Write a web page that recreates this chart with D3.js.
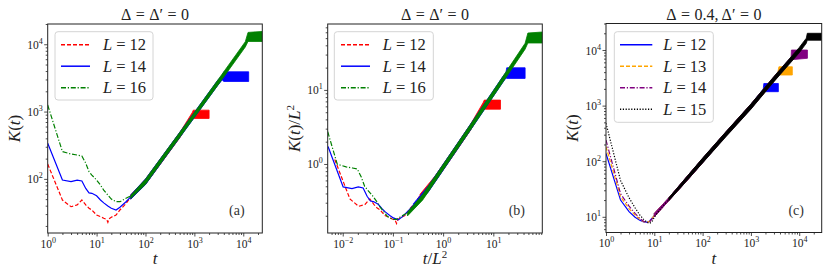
<!DOCTYPE html>
<html>
<head>
<meta charset="utf-8">
<script src="https://cdn.jsdelivr.net/npm/d3@7"></script>
<style>
  body { margin: 0; background: #fff; }
</style>
</head>
<body>
<svg id="fig" width="830" height="277" font-family="Liberation Serif, DejaVu Serif, serif"></svg>
<script>
/* K(t) growth — three log-log panels */

// panel (a): t, K(t) for the early (smooth) part
const a12 = [[1,166],[2,48.5],[3,38.6],[4,41],[5,48.5],[6,41],[7,36.6],[8,34.5],[10,29],[12,27.5],[14,26],[16,25],[17,22.6],[18,25.5],[20,27],[25,29],[30,34.5],[40,43],[50,54]];
const a14 = [[1,338],[2,96],[3,91],[4,96],[5,93],[6,72],[7,62],[8,61],[10,56],[12,48.5],[14,44],[17,39.5],[20,36.6],[25,34.5],[30,37.9],[40,45.8],[50,54]];
const a16 = [[1,1250],[2,254],[3,234],[4,226],[5,219],[6,171],[7,128],[8,114],[10,96],[12,81],[14,68],[17,57.5],[20,50],[25,45.8],[30,45.8],[40,51.5],[50,56]];
// noisy late part: t, low, high
const a12Band = [[50,50,58],[100,83,99],[200,164,196],[500,405,485],[900,790,960],[950,790,1050],[2000,790,1050]];
const a14Band = [[50,50,58],[100,82,100],[300,246,296],[1000,815,975],[3000,2440,2930],[3700,2950,3450],[4000,2800,3900],[12900,2800,3900]];
const a16Band = [[50,51,57],[100,83,99],[300,248,295],[1000,820,970],[3000,2450,2920],[11000,9100,10900],[12500,11000,15000],[24500,11000,15500]];

// panel (b): t/L^2, K(t)/L^2
const b12 = [[0.00694,1.15],[0.0139,0.337],[0.0208,0.268],[0.0278,0.285],[0.0347,0.337],[0.0417,0.285],[0.0486,0.254],[0.0556,0.24],[0.0694,0.201],[0.0833,0.191],[0.0972,0.181],[0.111,0.174],[0.118,0.157],[0.125,0.177],[0.139,0.188],[0.174,0.201],[0.208,0.24],[0.278,0.299],[0.347,0.375]];
const b14 = [[0.0051,1.72],[0.0102,0.49],[0.0153,0.464],[0.0204,0.49],[0.0255,0.474],[0.0306,0.367],[0.0357,0.316],[0.0408,0.311],[0.051,0.286],[0.0612,0.247],[0.0714,0.224],[0.0867,0.202],[0.102,0.187],[0.128,0.176],[0.153,0.193],[0.204,0.234],[0.255,0.276]];
const b16 = [[0.0039,4.88],[0.0078,0.99],[0.0117,0.914],[0.0156,0.883],[0.0195,0.855],[0.0234,0.668],[0.0273,0.5],[0.03125,0.445],[0.039,0.375],[0.0469,0.316],[0.0547,0.266],[0.0664,0.225],[0.078,0.195],[0.0977,0.179],[0.117,0.179],[0.156,0.201],[0.195,0.219]];
const b12Band = [[0.347,0.347,0.39],[0.694,0.58,0.69],[1.39,1.14,1.36],[3.47,2.82,3.38],[6.25,5.5,6.7],[6.6,5.49,7.29],[13.9,5.49,7.29]];
const b14Band = [[0.255,0.255,0.29],[0.51,0.42,0.51],[1.53,1.25,1.51],[5.1,4.16,5],[15.3,12.5,15],[17.9,14.5,17.3],[18.5,14.3,19.9],[43,14.3,19.9]];
const b16Band = [[0.195,0.199,0.223],[0.39,0.325,0.386],[1.17,0.97,1.15],[3.9,3.2,3.8],[11.7,9.6,11.4],[43,35.5,42.6],[48.8,43,58.6],[94.6,43,60.5]];

// panel (c): t, K(t), Delta = 0.4
const c12 = [[1,138],[2,20],[3,12.4],[4,9.8],[5,8.7],[6,8.1],[7,8],[8,8.4],[10,10.5],[12,12.5],[15,15.5],[20,20.5],[30,31]];
const c13 = [[1,182],[2,23],[3,14],[4,10.7],[5,9],[6,8.2],[7,8],[8,8.3],[10,10.5],[12,12.5],[15,15.5],[20,20.5],[30,31]];
const c14 = [[1,240],[2,26],[3,15.6],[4,11.5],[5,9.4],[6,8.3],[7,7.9],[8,8.1],[10,10.3],[12,12.4],[15,15.4],[20,20.5],[30,31]];
const c15 = [[1,480],[2,45],[3,22],[4,14.5],[5,10.8],[6,9],[7,8],[8,7.6],[9,8.2],[10,9.8],[12,12.3],[15,15.5],[20,20.5],[30,31]];
const c12Band = [[10,10,11.5],[20,19.5,22],[50,47,56],[100,94,112],[300,280,332],[1000,880,1060],[1800,1620,1980],[1850,1780,2500],[3700,1780,2500]];
const c13Band = [[10,10,11.5],[20,19.5,22],[50,47,56],[100,94,112],[300,280,332],[1000,880,1060],[3600,3300,3950],[3800,3550,5000],[7200,3550,5000]];
const c14Band = [[10,10,11.5],[20,19.5,22],[50,47,56],[100,94,112],[300,280,332],[1000,880,1060],[3000,2750,3300],[6800,6400,7500],[6900,6700,10000],[14800,7100,10000]];
const c15Band = [[20,19.6,22],[30,28.8,33.2],[100,93,114],[300,272,335],[1000,860,1070],[3000,2700,3350],[10000,8900,11100],[14000,13200,16300],[14700,15000,20000],[29200,15000,20000]];

// tick values
const ticksA = { x: [1, 10, 100, 1e3, 1e4], y: [100, 1e3, 1e4] };
const ticksB = { x: [0.01, 0.1, 1, 10], y: [1, 10] };
const ticksC = { x: [1, 10, 100, 1e3, 1e4], y: [10, 100, 1e3, 1e4] };

const DASH = { solid: null, dashed: '4,2', dashdot: '5,1.8,1.2,1.8', dotted: '1.2,1.6' };
const FONT = 'Liberation Serif, DejaVu Serif, serif';

const svg = d3.select('#fig');

const PANELS = [
  {
    id: 'a', x0: 47.7, x1: 262.3, y0: 24, y1: 233,
    xDomain: [1, 2.45e4], yDomain: [15.7, 2.0e4], ticks: ticksA,
    title: [['Δ'], ['='], ['Δ′'], ['='], ['0']], letter: '(a)', xlab: 'a', ylab: 'a',
    legend: { x: 55, w: 98, h: 68.3, line: [6, 35], label: 48 },
    series: [
      { lab: '12', color: '#ff0000', dash: 'dashed', line: a12, band: a12Band },
      { lab: '14', color: '#0000ff', dash: 'solid', line: a14, band: a14Band },
      { lab: '16', color: '#008000', dash: 'dashdot', line: a16, band: a16Band },
    ],
  },
  {
    id: 'b', x0: 327.7, x1: 542.3, y0: 24, y1: 233,
    xDomain: [0.00502, 94.6], yDomain: [0.117, 77.6], ticks: ticksB,
    title: [['Δ'], ['='], ['Δ′'], ['='], ['0']], letter: '(b)', xlab: 'b', ylab: 'b',
    legend: { x: 334.3, w: 99, h: 68.3, line: [6.7, 35.7], label: 48.4 },
    series: [
      { lab: '12', color: '#ff0000', dash: 'dashed', line: b12, band: b12Band },
      { lab: '14', color: '#0000ff', dash: 'solid', line: b14, band: b14Band },
      { lab: '16', color: '#008000', dash: 'dashdot', line: b16, band: b16Band },
    ],
  },
  {
    id: 'c', x0: 606, x1: 821.7, y0: 23.5, y1: 232.5,
    xDomain: [1, 2.92e4], yDomain: [5.22, 3.0e4], ticks: ticksC,
    title: [['Δ'], ['='], ['0.4,'], ['Δ′', 3], ['='], ['0']], letter: '(c)', xlab: 'a', ylab: 'a',
    legend: { x: 614.3, w: 99, h: 90.6, line: [5.7, 38], label: 49 },
    series: [
      { lab: '12', color: '#0000ff', dash: 'solid', line: c12, band: c12Band },
      { lab: '13', color: '#ffa500', dash: 'dashed', line: c13, band: c13Band },
      { lab: '14', color: '#800080', dash: 'dashdot', line: c14, band: c14Band },
      { lab: '15', color: '#000000', dash: 'dotted', line: c15, band: c15Band },
    ],
  },
];

function txt(sel) {
  return sel.append('text').attr('font-family', FONT).attr('fill', '#222');
}

function powLabel(sel, v) {
  const e = Math.round(Math.log10(v));
  sel.append('tspan').text('10');
  sel.append('tspan').attr('dy', -5).attr('font-size', 8).text(e < 0 ? '−' + (-e) : e);
}

function minorTicks(domain) {
  const out = [];
  const lo = Math.floor(Math.log10(domain[0])), hi = Math.ceil(Math.log10(domain[1]));
  for (let k = lo; k <= hi; k++) {
    for (let m = 2; m <= 9; m++) {
      const v = m * Math.pow(10, k);
      if (v >= domain[0] && v <= domain[1]) out.push(v);
    }
  }
  return out;
}

function drawPanel(p) {
  const x = d3.scaleLog().domain(p.xDomain).range([p.x0, p.x1]);
  const y = d3.scaleLog().domain(p.yDomain).range([p.y1, p.y0]);
  const g = svg.append('g').attr('class', 'panel-' + p.id);

  g.append('clipPath').attr('id', 'clip-' + p.id)
    .append('rect').attr('x', p.x0).attr('y', p.y0)
    .attr('width', p.x1 - p.x0).attr('height', p.y1 - p.y0);

  const plot = g.append('g').attr('clip-path', `url(#clip-${p.id})`);
  const line = d3.line().x(d => x(d[0])).y(d => y(d[1]));
  const area = d3.area().x(d => x(d[0])).y0(d => y(d[1])).y1(d => y(d[2]));

  p.series.forEach(s => {
    plot.append('path').datum(s.line)
      .attr('d', line)
      .attr('fill', 'none')
      .attr('stroke', s.color)
      .attr('stroke-width', 1.2)
      .attr('stroke-dasharray', DASH[s.dash]);
    plot.append('path').datum(s.band)
      .attr('d', area)
      .attr('fill', s.color)
      .attr('stroke', s.color)
      .attr('stroke-width', 0.8)
      .attr('stroke-linejoin', 'round');
  });

  // axes: minor then major ticks
  g.append('g').attr('transform', `translate(0,${p.y1})`)
    .call(d3.axisBottom(x).tickValues(minorTicks(p.xDomain)).tickSize(2).tickFormat(''));
  const xm = g.append('g').attr('transform', `translate(0,${p.y1})`)
    .call(d3.axisBottom(x).tickValues(p.ticks.x).tickSize(3.5).tickFormat(''));
  xm.selectAll('.tick').each(function (d) {
    const t = txt(d3.select(this)).attr('y', 14.5).attr('text-anchor', 'middle').attr('font-size', 11.5);
    powLabel(t, d);
  });

  g.append('g').attr('transform', `translate(${p.x0},0)`)
    .call(d3.axisLeft(y).tickValues(minorTicks(p.yDomain)).tickSize(2).tickFormat(''));
  const ym = g.append('g').attr('transform', `translate(${p.x0},0)`)
    .call(d3.axisLeft(y).tickValues(p.ticks.y).tickSize(3.5).tickFormat(''));
  ym.selectAll('.tick').each(function (d) {
    const t = txt(d3.select(this)).attr('x', -5).attr('y', 4).attr('text-anchor', 'end').attr('font-size', 11.5);
    powLabel(t, d);
  });

  g.selectAll('.domain').remove();
  g.selectAll('.tick line').attr('stroke', '#222').attr('stroke-width', 0.8);

  g.append('rect')
    .attr('x', p.x0).attr('y', p.y0)
    .attr('width', p.x1 - p.x0).attr('height', p.y1 - p.y0)
    .attr('fill', 'none').attr('stroke', '#222').attr('stroke-width', 1);

  // title, math-style spacing around "="
  const cx = (p.x0 + p.x1) / 2;
  const tt = txt(g).attr('x', cx).attr('y', 19.5).attr('text-anchor', 'middle').attr('font-size', 16);
  p.title.forEach((part, i) => {
    const gap = part[1] != null ? part[1] : (i > 0 ? 4.5 : 0);
    tt.append('tspan').attr('dx', gap).text(part[0]);
  });

  // x label
  const xl = txt(g).attr('x', cx).attr('y', 264)
    .attr('text-anchor', 'middle').attr('font-size', 17);
  xl.append('tspan').attr('font-style', 'italic').text('t');
  if (p.xlab === 'b') {
    xl.append('tspan').text('/');
    xl.append('tspan').attr('font-style', 'italic').text('L');
    xl.append('tspan').attr('dy', -6).attr('font-size', 11).text('2');
  }

  // y label
  const yl = txt(g)
    .attr('transform', `translate(${p.x0 - 28},${(p.y0 + p.y1) / 2}) rotate(-90)`)
    .attr('text-anchor', 'middle').attr('font-size', 17);
  yl.append('tspan').attr('font-style', 'italic').text('K');
  yl.append('tspan').text('(');
  yl.append('tspan').attr('font-style', 'italic').text('t');
  yl.append('tspan').text(')');
  if (p.ylab === 'b') {
    yl.append('tspan').text('/');
    yl.append('tspan').attr('font-style', 'italic').text('L');
    yl.append('tspan').attr('dy', -6).attr('font-size', 11).text('2');
  }

  txt(g).attr('x', p.x1 - 25.5).attr('y', 215)
    .attr('text-anchor', 'middle').attr('font-size', 14).attr('fill', '#333')
    .text(p.letter);

  // legend
  const L = p.legend;
  const lg = g.append('g').attr('transform', `translate(${L.x},31.7)`);
  lg.append('rect').attr('width', L.w).attr('height', L.h).attr('rx', 3)
    .attr('fill', '#fff').attr('fill-opacity', 0.8)
    .attr('stroke', '#d4d4d4').attr('stroke-width', 1);
  p.series.forEach((s, i) => {
    const ry = 13 + i * 21.5;
    lg.append('line').attr('x1', L.line[0]).attr('x2', L.line[1])
      .attr('y1', ry).attr('y2', ry)
      .attr('stroke', s.color).attr('stroke-width', 1.5)
      .attr('stroke-dasharray', DASH[s.dash]);
    const t = txt(lg).attr('x', L.label).attr('y', ry + 5.5).attr('font-size', 16.5);
    t.append('tspan').attr('font-style', 'italic').text('L');
    t.append('tspan').attr('dx', 4).text('=');
    t.append('tspan').attr('dx', 4).text(s.lab);
  });
}

PANELS.forEach(drawPanel);
</script>
</body>
</html>
